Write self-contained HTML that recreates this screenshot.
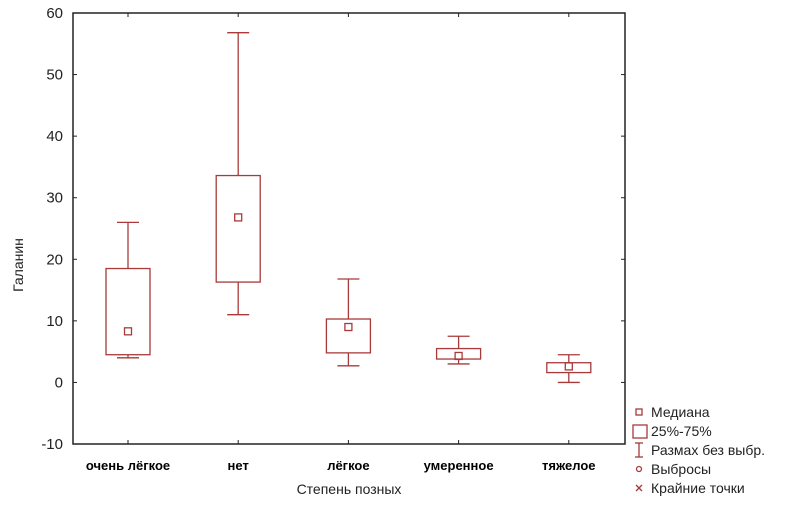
<!DOCTYPE html>
<html><head><meta charset="utf-8"><style>
body{margin:0;background:#fff;}
svg text{font-family:"Liberation Sans",sans-serif;}
</style></head><body>
<svg id="c" width="808" height="506"></svg>
<script>
const categories=["очень лёгкое","нет","лёгкое","умеренное","тяжелое"];
const whiskerLow=[4,11,2.7,3,0];
const whiskerHigh=[26,56.8,16.8,7.5,4.5];
const q1=[4.5,16.3,4.8,3.8,1.6];
const q3=[18.5,33.6,10.3,5.5,3.2];
const medians=[8.3,26.8,9,4.3,2.6];
const yTicks=[-10,0,10,20,30,40,50,60];
const L=73,R=625,T=13,B=444,col="#a83a3a";
const y=v=>B-(v+10)/70*(B-T);
const x=i=>128+i*110.2;
const svg=document.getElementById('c');
const NS="http://www.w3.org/2000/svg";
function mk(t,a,p){const e=document.createElementNS(NS,t);for(const k in a)e.setAttribute(k,a[k]);(p||svg).appendChild(e);return e;}
let e;
e=mk('rect',{x:L,y:T,width:R-L,height:B-T,fill:'none',stroke:'#222','stroke-width':1.5});


yTicks.forEach(v=>{
 e=mk('text',{x:L-10,y:y(v)+5,'text-anchor':'end','font-size':15,fill:'#222'});e.textContent=v;
 
 
 mk('line',{x1:L,x2:L+4,y1:y(v),y2:y(v),stroke:'#222'});
 mk('line',{x1:R,x2:R-4,y1:y(v),y2:y(v),stroke:'#222'});
});
categories.forEach((c,i)=>{
 const cx=x(i);
 mk('line',{x1:cx,x2:cx,y1:B,y2:B-4,stroke:'#222'});
 mk('line',{x1:cx,x2:cx,y1:T,y2:T+4,stroke:'#222'});
 e=mk('text',{x:cx,y:470,'text-anchor':'middle','font-size':13,'font-weight':'bold','font-family':'"Liberation Serif",serif',fill:'#000'});e.textContent=c;
 
 
 const g=mk('g',{stroke:col,fill:'none','stroke-width':1.3});
 
 
 mk('line',{x1:cx,x2:cx,y1:y(whiskerHigh[i]),y2:y(q3[i])},g);
 mk('line',{x1:cx,x2:cx,y1:y(whiskerLow[i]),y2:y(q1[i])},g);
 mk('line',{x1:cx-11,x2:cx+11,y1:y(whiskerHigh[i]),y2:y(whiskerHigh[i])},g);
 mk('line',{x1:cx-11,x2:cx+11,y1:y(whiskerLow[i]),y2:y(whiskerLow[i])},g);
 mk('rect',{x:cx-22,y:y(q3[i]),width:44,height:y(q1[i])-y(q3[i]),fill:'#fff'},g);
 mk('rect',{x:cx-3.5,y:y(medians[i])-3.5,width:7,height:7},g);
});
e=mk('text',{x:349,y:494,'text-anchor':'middle','font-size':14,fill:'#222'});e.textContent="Степень позных";


e=mk('text',{x:23,y:265,'text-anchor':'middle','font-size':14,fill:'#222',transform:'rotate(-90 23 265)'});e.textContent="Галанин";


const legend=["Медиана","25%-75%","Размах без выбр.","Выбросы","Крайние точки"];
const lg=mk('g',{});


legend.forEach((t,i)=>{
 const ly=412+i*19;
 e=mk('text',{x:651,y:ly+5,'font-size':14,fill:'#222'},lg);e.textContent=t;
 
 
 const s={stroke:col,fill:'none','stroke-width':1.3};
 if(i==0)mk('rect',Object.assign({x:636,y:ly-3,width:6,height:6},s),lg);
 if(i==1)mk('rect',Object.assign({x:633,y:ly-6,width:14,height:13},s),lg);
 if(i==2){mk('line',Object.assign({x1:639,x2:639,y1:ly-7,y2:ly+7},s),lg);mk('line',Object.assign({x1:635,x2:643,y1:ly-7,y2:ly-7},s),lg);mk('line',Object.assign({x1:635,x2:643,y1:ly+7,y2:ly+7},s),lg);}
 if(i==3)mk('circle',Object.assign({cx:639,cy:ly,r:2.5},s),lg);
 if(i==4){mk('line',Object.assign({x1:636,x2:642,y1:ly-3,y2:ly+3},s),lg);mk('line',Object.assign({x1:636,x2:642,y1:ly+3,y2:ly-3},s),lg);}
});
</script>
</body></html>
